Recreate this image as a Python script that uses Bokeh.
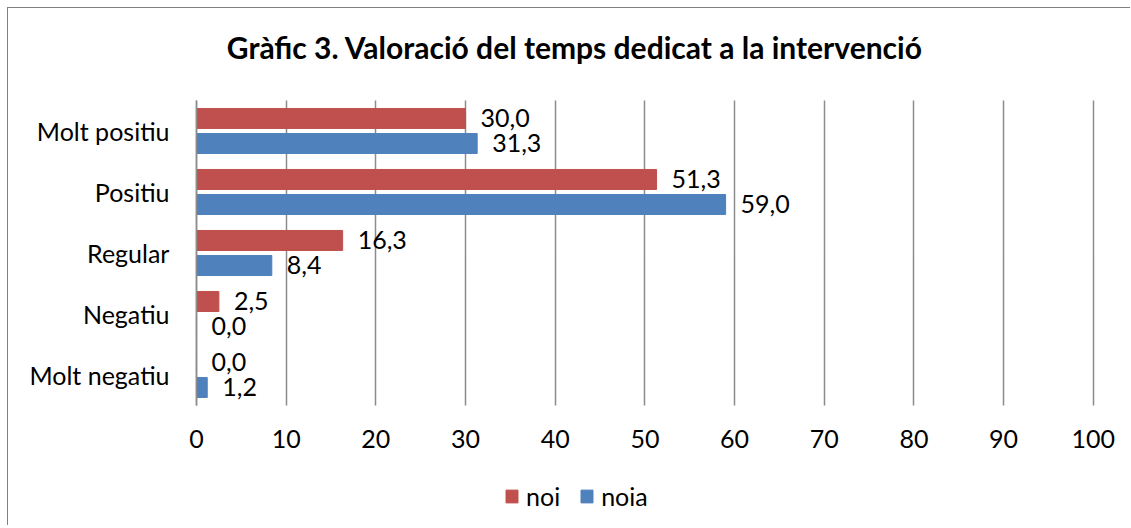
from bokeh.plotting import figure
from bokeh.models import (ColumnDataSource, LabelSet, Label, Legend, LegendItem,
                          Range1d, FixedTicker)
from bokeh.transform import dodge
from bokeh.core.properties import value
from bokeh.embed import file_html
from bokeh.resources import INLINE

categories = ["Molt positiu", "Positiu", "Regular", "Negatiu", "Molt negatiu"]
noi = [30.0, 51.3, 16.3, 2.5, 0.0]
noia = [31.3, 59.0, 8.4, 0.0, 1.2]
series_names = ["noi", "noia"]
x_ticks = [0, 10, 20, 30, 40, 50, 60, 70, 80, 90, 100]
title_text = "Gràfic 3. Valoració del temps dedicat a la intervenció"

RED = "#C0504D"
BLUE = "#4F81BD"
GRID = "#8c8c8c"
FONT = "Lato"

n = len(categories)
ypos = [n - i - 0.5 for i in range(n)]   # category slots, top to bottom


def fmt(v):
    return f"{v:.1f}".replace(".", ",")


src = ColumnDataSource(dict(
    cat=categories,
    y=ypos,
    noi=noi,
    noia=noia,
    noi_txt=[fmt(v) for v in noi],
    noia_txt=[fmt(v) for v in noia],
))

p = figure(width=1123, height=518, title=None,
           x_range=Range1d(-20.96, 104.26), y_range=Range1d(-1.984, 6.508),
           output_backend="svg", toolbar_location=None,
           min_border_left=0, min_border_right=0,
           min_border_top=0, min_border_bottom=0)
p.styles = {"margin-left": "7px", "margin-top": "7px",
            "border-left": "1px solid #808080", "border-top": "1px solid #808080"}
p.outline_line_color = None
p.background_fill_color = "white"
p.border_fill_color = "white"

# grid
p.ygrid.grid_line_color = None
p.xgrid.grid_line_color = GRID
p.xgrid.grid_line_width = 1.5
p.xgrid.ticker = FixedTicker(ticks=x_ticks)
p.xgrid.cross_bounds = (0, n)

# x axis drawn at the bottom of the category area
p.xaxis.ticker = FixedTicker(ticks=x_ticks)
p.xaxis.fixed_location = 0
p.xaxis.bounds = (0, 100)
p.xaxis.axis_line_color = None
p.xaxis.major_tick_line_color = None
p.xaxis.minor_tick_line_color = None
p.xaxis.major_label_standoff = 19

# y axis with category names, drawn at x = 0
p.yaxis.ticker = FixedTicker(ticks=ypos)
p.yaxis.major_label_overrides = {yv: c for yv, c in zip(ypos, categories)}
p.yaxis.fixed_location = 0
p.yaxis.bounds = (0, n)
p.yaxis.axis_line_color = GRID
p.yaxis.axis_line_width = 1.5
p.yaxis.major_tick_line_color = None
p.yaxis.minor_tick_line_color = None
p.yaxis.major_label_standoff = 21
for ax in (p.xaxis, p.yaxis):
    ax.major_label_text_font = FONT
    ax.major_label_text_font_size = "25px"
    ax.major_label_text_color = "black"

off = 0.205
bh = 0.328
r1 = p.hbar(y=dodge("y", off), left=0, right="noi", height=bh,
            fill_color=RED, line_color=RED, source=src)
r2 = p.hbar(y=dodge("y", -off), left=0, right="noia", height=bh,
            fill_color=BLUE, line_color=BLUE, source=src)

for col, o in (("noi", off), ("noia", -off)):
    p.add_layout(LabelSet(x=col, y=dodge("y", o), text=col + "_txt",
                          x_offset=15, text_baseline="middle", text_align="left",
                          text_font=value(FONT), text_font_size="25px",
                          text_color="black", source=src))

p.add_layout(Label(x=42.2, y=5.875, text=title_text, text_align="center",
                   text_baseline="alphabetic", text_font=FONT,
                   text_font_style="bold", text_font_size="30px", text_color="black"))

legend = Legend(items=[LegendItem(label=series_names[0], renderers=[r1]),
                       LegendItem(label=series_names[1], renderers=[r2])],
                orientation="horizontal", location=(496, 15),
                glyph_width=15, glyph_height=16, label_standoff=7, spacing=19,
                label_height=30, padding=0, margin=0, border_line_color=None,
                background_fill_alpha=0,
                label_text_font=FONT, label_text_font_size="25px",
                label_text_color="black")
p.add_layout(legend)

open("out.html", "w").write(file_html(p, INLINE))
